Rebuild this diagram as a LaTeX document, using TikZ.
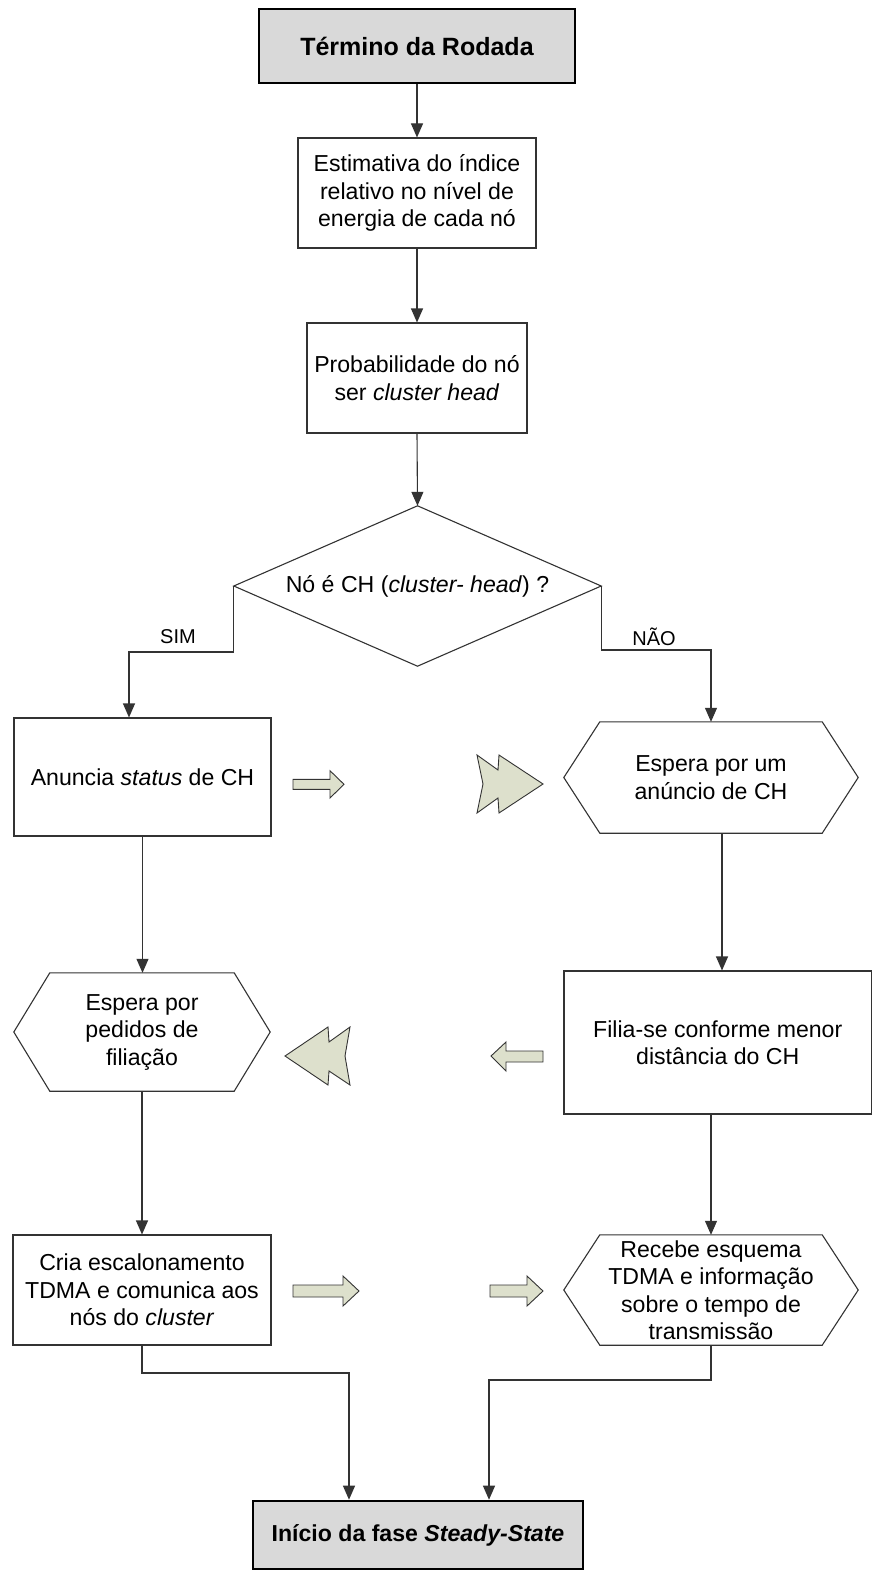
\documentclass[tikz,border=0pt]{standalone}
\usepackage{fontspec}
\setmainfont{Liberation Sans}
\usetikzlibrary{arrows.meta,calc}
\definecolor{linegray}{HTML}{333333}
\definecolor{boxgray}{HTML}{D9D9D9}
\definecolor{blkfill}{HTML}{DDE0CC}
\tikzset{
  base/.style={inner sep=0pt, align=center, font=\fontsize{23.1}{27.5}\selectfont},
  procbox/.style={base, draw=linegray, line width=1.1pt, fill=white},
  termbox/.style={base, draw=black, line width=2.6pt, fill=boxgray},
  outline/.style={draw=linegray, line width=1.1pt},
  conn/.style={draw=linegray, line width=1.1pt, -{Triangle[length=14pt,width=12pt]}},
  plainline/.style={draw=linegray, line width=1.1pt},
  blk/.style={draw=linegray, line width=0.9pt, fill=blkfill, line join=miter},
  lbl/.style={font=\fontsize{20}{24}\selectfont, inner sep=0pt}
}
\newcommand{\hexout}[2]{\draw[outline] ([xshift=#2]#1.north west) -- ([xshift=-#2]#1.north east) -- (#1.east) -- ([xshift=-#2]#1.south east) -- ([xshift=#2]#1.south west) -- (#1.west) -- cycle;}
\begin{document}
\begin{tikzpicture}[x=1pt,y=-1pt]
\fill[white] (0,0) rectangle (873,1573);
\useasboundingbox (0,0) rectangle (873,1573);

% nodes
\node[termbox, minimum width=316pt, minimum height=74pt, font=\fontsize{25}{29}\selectfont\bfseries] (t) at (417,46) {Término da Rodada};
\node[procbox, minimum width=238pt, minimum height=110pt] (e) at (417,193) {Estimativa do índice\\relativo no nível de\\energia de cada nó};
\node[procbox, minimum width=220pt, minimum height=110pt] (p) at (417,378) {Probabilidade do nó\\ser \textit{cluster head}};
\node[base, minimum width=367pt, minimum height=160pt] (d) at (417.5,586) {Nó é CH (\textit{cluster- head}) ?};
\draw[outline] (d.north) -- (d.east) -- (d.south) -- (d.west) -- cycle;

\node[procbox, minimum width=257pt, minimum height=118pt] (a) at (142.5,777) {Anuncia \textit{status} de CH};
\node[base, minimum width=294pt, minimum height=111pt] (w) at (711,777.5) {Espera por um\\anúncio de CH};
\hexout{w}{36pt}

\node[base, minimum width=256pt, minimum height=118pt] (fp) at (142,1032) {Espera por\\pedidos de\\filiação};
\hexout{fp}{36pt}
\node[procbox, minimum width=307.5pt, minimum height=143pt] (f) at (717.75,1042.5) {Filia-se conforme menor\\distância do CH};

\node[procbox, minimum width=258pt, minimum height=110pt] (c) at (142,1290) {Cria escalonamento\\TDMA e comunica aos\\nós do \textit{cluster}};
\node[base, minimum width=294pt, minimum height=110pt] (r) at (711,1290) {Recebe esquema\\TDMA e informação\\sobre o tempo de\\transmissão};
\hexout{r}{36pt}

\node[termbox, minimum width=330pt, minimum height=68pt, font=\fontsize{23.1}{27}\selectfont\bfseries] (i) at (418,1535) {Início da fase \textit{Steady-State}};

% labels
\node[lbl] (sim) at (178,637) {SIM};
\node[lbl] (nao) at (654,637) {NÃO};

% connectors
\draw[conn] (t.south) -- (e.north);
\draw[conn] (e.south) -- (p.north);
\draw[conn] (p.south) -- (d.north);
\coordinate (sx) at (129,652);
\coordinate (nx) at (711,650);
\draw[conn] (d.west) |- (sx) -- (sx |- a.north);
\draw[conn] (d.east) |- (nx) -- (nx |- w.north);
\draw[conn] (a.south) -- (a.south |- fp.north);
\coordinate (wf) at (722,900);
\draw[conn] (w.south -| wf) -- (f.north -| wf);
\draw[conn] (fp.south) -- (fp.south |- c.north);
\draw[conn] (f.south -| r.north) -- (r.north);
\coordinate (c1) at (349,1373);
\coordinate (r1) at (489,1380);
\draw[conn] (c.south) |- (c1) -- (c1 |- i.north);
\draw[conn] (r.south) |- (r1) -- (r1 |- i.north);

% block arrows
\draw[blk] (293,779.3) -- (330,779.3) -- (330,770.7) -- (344,784.3) -- (330,798) -- (330,789.3) -- (293,789.3) -- cycle;
\draw[blk] (477,755) -- (498,770) -- (499,755) -- (543,784) -- (499,813) -- (498,798) -- (477,813) -- (483,784) -- cycle;
\draw[blk] (285,1056) -- (328,1027) -- (329,1042) -- (350,1027) -- (345,1056) -- (350,1085) -- (329,1071) -- (328,1085) -- cycle;
\draw[blk] (491,1056) -- (506,1042) -- (506,1051) -- (543,1051) -- (543,1062) -- (506,1062) -- (506,1071) -- cycle;
\draw[blk] (293,1285) -- (343,1285) -- (343,1276) -- (359,1291) -- (343,1306) -- (343,1297) -- (293,1297) -- cycle;
\draw[blk] (490,1285) -- (527,1285) -- (527,1276) -- (543,1291) -- (527,1306) -- (527,1297) -- (490,1297) -- cycle;
\end{tikzpicture}
\end{document}
